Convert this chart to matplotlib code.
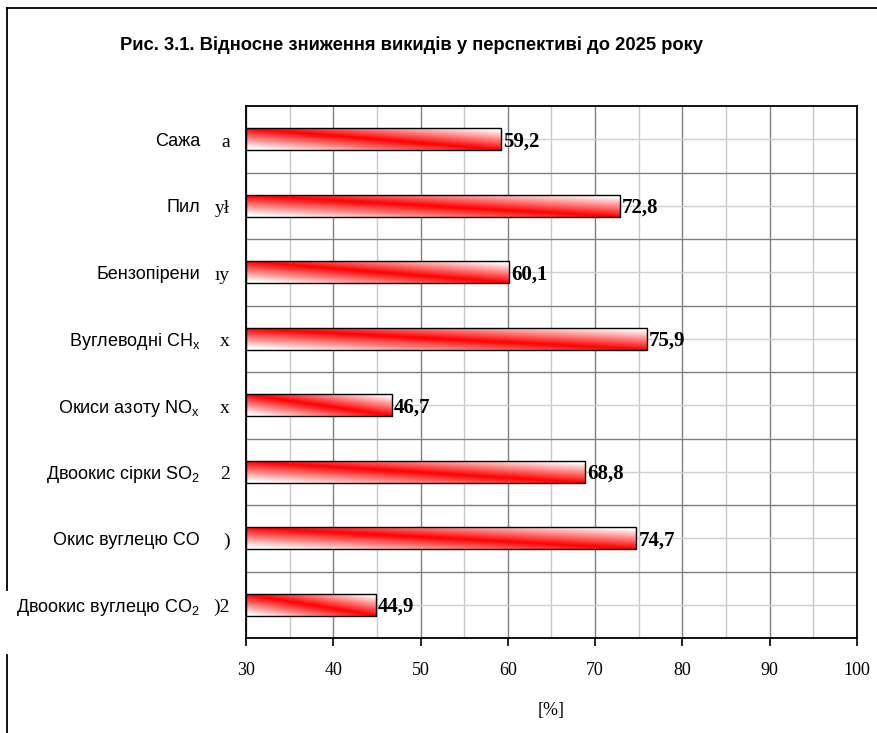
import numpy as np
import matplotlib.pyplot as plt
from matplotlib.lines import Line2D

plt.rcParams['mathtext.default'] = 'regular'

# відносне зниження викидів, %
categories = ['Сажа', 'Пил', 'Бензопірени', 'Вуглеводні CH$_x$',
              'Окиси азоту NO$_x$', 'Двоокис сірки SO$_2$',
              'Окис вуглецю CO', 'Двоокис вуглецю CO$_2$']
values = [59.2, 72.8, 60.1, 75.9, 46.7, 68.8, 74.7, 44.9]
tails = ['а', 'уł', 'ıу', 'х', 'х', '2', ')', ')2']
xticks = [30, 40, 50, 60, 70, 80, 90, 100]

sans = ['Liberation Sans', 'DejaVu Sans']
serif = ['Liberation Serif', 'DejaVu Serif']

fig = plt.figure(figsize=(8.78, 7.33), dpi=100)
ax = fig.add_axes([246 / 878, 1 - 638 / 733, 611 / 878, 532 / 733])

ypos = np.arange(len(categories))
h = 0.33
x0 = xticks[0]

# градієнтна заливка: червона діагональ зліва-зверху вправо-вниз
nr, nc = 40, 300
v = np.linspace(0, 1, nr)[:, None]
u = np.linspace(0, 1, nc)[None, :]
t = np.clip(np.abs(v - u) * 1.1, 0, 1)
grad = np.dstack([np.ones_like(t), t, t])

for y, val in zip(ypos, values):
    ax.imshow(grad, extent=(x0, val, y + h / 2, y - h / 2), origin='upper',
              aspect='auto', interpolation='bilinear', zorder=2)
ax.barh(ypos, [val - x0 for val in values], left=x0, height=h,
        facecolor='none', edgecolor='black', linewidth=1.0, zorder=3)

for y, val in zip(ypos, values):
    ax.text(val + 0.25, y + 0.03, f'{val:.1f}'.replace('.', ','),
            ha='left', va='center', fontsize=15, fontweight='bold',
            family=serif, zorder=4)

ax.set_xlim(30, 100)
ax.set_ylim(len(categories) - 0.5, -0.5)

ax.set_xticks(xticks)
ax.set_xticks(np.arange(35, 100, 10), minor=True)
ax.set_yticks(ypos)
ax.set_yticks(np.arange(0.5, len(categories) - 0.5, 1), minor=True)
ax.set_yticklabels(categories, family=sans, fontsize=13)
ax.set_xticklabels([str(x) for x in xticks], family=serif, fontsize=13)

ax.tick_params(axis='x', which='major', direction='out', length=6,
               width=1.2, pad=11)
ax.tick_params(axis='x', which='minor', length=0)
ax.tick_params(axis='y', which='both', length=0, pad=33)

ax.grid(True, which='major', axis='x', color='#808080', linewidth=1.0)
ax.grid(True, which='minor', axis='x', color='#c8c8c8', linewidth=1.0)
ax.grid(True, which='minor', axis='y', color='#808080', linewidth=1.0)
ax.grid(True, which='major', axis='y', color='#d0d0d0', linewidth=1.0)
ax.set_axisbelow(True)

for s in ax.spines.values():
    s.set_linewidth(1.3)
    s.set_color('black')

ax.set_xlabel('[%]', family=serif, fontsize=13, labelpad=17)

# обрізані залишки підписів справа від назв
for y, s in zip(ypos, tails):
    ax.annotate(s, xy=(0, y), xycoords=ax.get_yaxis_transform(),
                xytext=(-16, -3), textcoords='offset pixels',
                ha='right', va='center', family=serif, fontsize=14)

fig.text(120 / 878, 1 - 45 / 733,
         'Рис. 3.1. Відносне зниження викидів у перспективі до 2025 року',
         ha='left', va='center', fontsize=13.2, fontweight='bold', family=sans)

# рамка
fig.add_artist(Line2D([7 / 878, 1], [1 - 8 / 733, 1 - 8 / 733],
                      color='black', linewidth=1.3))
fig.add_artist(Line2D([7 / 878, 7 / 878], [1 - 8 / 733, 1 - 590 / 733],
                      color='black', linewidth=1.3))
fig.add_artist(Line2D([7 / 878, 7 / 878], [1 - 655 / 733, 0],
                      color='black', linewidth=1.3))

fig.savefig('out.png', dpi=100)
